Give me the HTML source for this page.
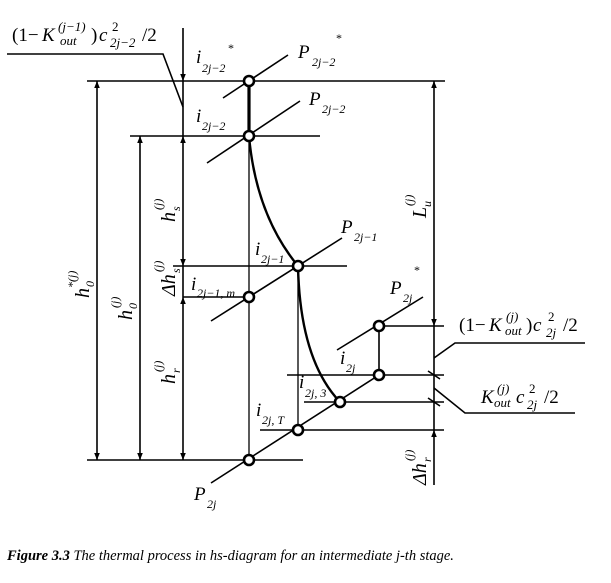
<!DOCTYPE html>
<html><head><meta charset="utf-8"><style>
body{margin:0;background:#fff;}
svg{display:block;font-family:"Liberation Serif",serif;font-style:italic;}
</style></head><body>
<svg width="611" height="583" viewBox="0 0 611 583" xmlns="http://www.w3.org/2000/svg">
<defs>
<marker id="a" viewBox="0 0 10 10" refX="10" refY="5" markerWidth="7" markerHeight="14" orient="auto-start-reverse" markerUnits="userSpaceOnUse"><path d="M0,1 L10,5 L0,9z" fill="#000"/></marker>
</defs>
<g stroke="#000" stroke-width="1.6" fill="none">
<line x1="87" y1="81" x2="445" y2="81"/>
<line x1="130" y1="136" x2="320" y2="136"/>
<line x1="173" y1="266" x2="347" y2="266"/>
<line x1="183" y1="297" x2="249" y2="297"/>
<line x1="87" y1="460" x2="303" y2="460"/>
<line x1="379" y1="326" x2="444" y2="326"/>
<line x1="287" y1="375" x2="444" y2="375"/>
<line x1="304" y1="402" x2="444" y2="402"/>
<line x1="260" y1="430" x2="444" y2="430"/>
<line x1="223" y1="98" x2="288" y2="55"/>
<line x1="207" y1="163" x2="300" y2="101"/>
<line x1="211" y1="321" x2="342" y2="238"/>
<line x1="211" y1="483" x2="379" y2="375"/>
<line x1="337" y1="350" x2="423" y2="297"/>
<line x1="249" y1="136" x2="249" y2="460" stroke-width="1.3"/>
<line x1="298" y1="266" x2="298" y2="430" stroke-width="1.3"/>
<line x1="379" y1="326" x2="379" y2="375"/>
<line x1="249" y1="81" x2="249" y2="136" stroke-width="3.2"/>
<path d="M249,136 Q256,215 298,266" stroke-width="2.4"/>
<path d="M298,266 Q300,360 340,402" stroke-width="2.4"/>
<line x1="183" y1="28" x2="183" y2="81" marker-end="url(#a)"/>
<line x1="183" y1="81" x2="183" y2="136"/>
<line x1="183" y1="136" x2="183" y2="266" marker-start="url(#a)" marker-end="url(#a)"/>
<line x1="183" y1="266" x2="183" y2="297"/>
<line x1="183" y1="297" x2="183" y2="460" marker-start="url(#a)" marker-end="url(#a)"/>
<line x1="97" y1="81" x2="97" y2="460" marker-start="url(#a)" marker-end="url(#a)"/>
<line x1="140" y1="136" x2="140" y2="460" marker-start="url(#a)" marker-end="url(#a)"/>
<polyline points="7,54 163,54 183,107"/>
<line x1="434" y1="81" x2="434" y2="326" marker-start="url(#a)" marker-end="url(#a)"/>
<line x1="434" y1="326" x2="434" y2="430"/>
<line x1="434" y1="430" x2="434" y2="485" marker-start="url(#a)"/>
<line x1="428" y1="371" x2="440" y2="379"/>
<line x1="428" y1="398" x2="440" y2="406"/>
<polyline points="434,358 455,343 585,343"/>
<polyline points="434,388 465,413 575,413"/>
</g>
<g fill="#fff" stroke="#000" stroke-width="2.6">
<circle cx="249" cy="81" r="5"/><circle cx="249" cy="136" r="5"/>
<circle cx="298" cy="266" r="5"/><circle cx="249" cy="297" r="5"/>
<circle cx="249" cy="460" r="5"/><circle cx="379" cy="326" r="5"/>
<circle cx="379" cy="375" r="5"/><circle cx="340" cy="402" r="5"/>
<circle cx="298" cy="430" r="5"/>
</g>
<g font-size="19" fill="#000">
<text x="12" y="41" font-style="normal">(1−</text>
<text x="42" y="41">K</text>
<text x="58" y="31" font-size="13">(j−1)</text>
<text x="60" y="45" font-size="13">out</text>
<text x="91" y="41" font-style="normal">)</text>
<text x="99" y="41">c</text>
<text x="112" y="31" font-size="13" font-style="normal">2</text>
<text x="110" y="47" font-size="13">2j−2</text>
<text x="142" y="41" font-style="normal">/2</text>

<text x="196" y="63">i</text><text x="202" y="72" font-size="12">2j−2</text><text x="228" y="52" font-size="12" font-style="normal">*</text>
<text x="196" y="122">i</text><text x="202" y="130" font-size="12">2j−2</text>
<text x="298" y="58">P</text><text x="312" y="66" font-size="12">2j−2</text><text x="336" y="42" font-size="12" font-style="normal">*</text>
<text x="309" y="105">P</text><text x="322" y="113" font-size="12">2j−2</text>
<text x="255" y="255">i</text><text x="261" y="263" font-size="12">2j−1</text>
<text x="341" y="233">P</text><text x="354" y="241" font-size="12">2j−1</text>
<text x="191" y="290">i</text><text x="197" y="297" font-size="12">2j−1, т</text>
<text x="390" y="294">P</text><text x="403" y="302" font-size="12">2j</text><text x="414" y="274" font-size="12" font-style="normal">*</text>
<text x="340" y="364">i</text><text x="346" y="372" font-size="12">2j</text>
<text x="299" y="388">i</text><text x="305" y="397" font-size="12">2j, 3</text>
<text x="256" y="416">i</text><text x="262" y="424" font-size="12">2j, T</text>
<text x="194" y="500">P</text><text x="207" y="508" font-size="12">2j</text>

<text x="459" y="331" font-style="normal">(1−</text>
<text x="489" y="331">K</text>
<text x="506" y="321" font-size="13">(j)</text>
<text x="505" y="335" font-size="13">out</text>
<text x="526" y="331" font-style="normal">)</text>
<text x="533" y="331">c</text>
<text x="548" y="321" font-size="13" font-style="normal">2</text>
<text x="546" y="337" font-size="13">2j</text>
<text x="563" y="331" font-style="normal">/2</text>

<text x="481" y="403">K</text>
<text x="497" y="393" font-size="13">(j)</text>
<text x="494" y="407" font-size="13">out</text>
<text x="516" y="403">c</text>
<text x="529" y="393" font-size="13" font-style="normal">2</text>
<text x="527" y="409" font-size="13">2j</text>
<text x="544" y="403" font-style="normal">/2</text>

<g font-size="20">
<g transform="translate(89,298) rotate(-90)"><text x="0" y="0">h</text><text x="11" y="5" font-size="12">0</text><text x="10" y="-13" font-size="12">*(j)</text></g>
<g transform="translate(132,320) rotate(-90)"><text x="0" y="0">h</text><text x="11" y="5" font-size="12">0</text><text x="12" y="-13" font-size="12">(j)</text></g>
<g transform="translate(175,222) rotate(-90)"><text x="0" y="0">h</text><text x="11" y="5" font-size="12">s</text><text x="12" y="-13" font-size="12">(j)</text></g>
<g transform="translate(175,296) rotate(-90)"><text x="0" y="0">Δh</text><text x="23" y="5" font-size="12">s</text><text x="24" y="-13" font-size="12">(j)</text></g>
<g transform="translate(175,384) rotate(-90)"><text x="0" y="0">h</text><text x="11" y="5" font-size="12">r</text><text x="12" y="-13" font-size="12">(j)</text></g>
<g transform="translate(426,218) rotate(-90)"><text x="0" y="0">L</text><text x="11" y="5" font-size="12">u</text><text x="12" y="-13" font-size="12">(j)</text></g>
<g transform="translate(426,485) rotate(-90)"><text x="0" y="0">Δh</text><text x="23" y="5" font-size="12">r</text><text x="24" y="-13" font-size="12">(j)</text></g>
</g>
</g>
<text x="7" y="560" font-size="14.5" fill="#000"><tspan font-weight="bold">Figure 3.3</tspan>  The thermal process in hs-diagram for an intermediate j-th stage.</text>
</svg>
</body></html>
